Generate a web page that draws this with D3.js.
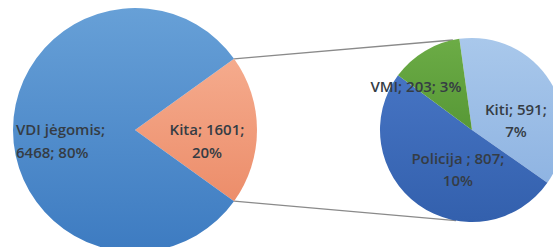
<!DOCTYPE html>
<html>
<head>
<meta charset="utf-8">
<script src="https://cdn.jsdelivr.net/npm/d3@7"></script>
<style>
  body { margin: 0; background: #fff; }
  svg { display: block; }
  .lbl { font-family: "Open Sans", "Liberation Sans", Arial, sans-serif; font-size: 15px; font-weight: 600; fill: #353c44; }
</style>
</head>
<body>
<script>
// main pie
var mainNames = ["Kita", "VDI jėgomis"];
var mainValues = [1601, 6468];
var mainPct = ["20%", "80%"];
// secondary pie (split of "Kita")
var subNames = ["Kiti", "Policija ", "VMI"];
var subValues = [591, 807, 203];
var subPct = ["7%", "10%", "3%"];

var width = 553, height = 247;
var deg = Math.PI / 180;

var svg = d3.select("body").append("svg")
    .attr("width", width)
    .attr("height", height);

// gradients
var grads = {
  vdi: ["#67a0d7", "#3d7bc1"],
  kita: ["#f5ab8d", "#ec8d6a"],
  kiti: ["#a9c8eb", "#8fb4e2"],
  pol: ["#4674c3", "#3360ad"],
  vmi: ["#6cac46", "#579836"]
};
var defs = svg.append("defs");
Object.keys(grads).forEach(function(k) {
  var g = defs.append("linearGradient").attr("id", "g-" + k)
      .attr("x1", 0).attr("y1", 0).attr("x2", 0).attr("y2", 1);
  g.append("stop").attr("offset", "0%").attr("stop-color", grads[k][0]);
  g.append("stop").attr("offset", "100%").attr("stop-color", grads[k][1]);
});
var mainFill = ["url(#g-kita)", "url(#g-vdi)"];
var subFill = ["url(#g-kiti)", "url(#g-pol)", "url(#g-vmi)"];

var main = {cx: 135, cy: 130, r: 122};
var sub = {cx: 472, cy: 130, r: 92};

// Kita slice centred on the right side
var kitaSpan = 360 * mainValues[0] / d3.sum(mainValues);
var mainPie = d3.pie().sort(null)
    .startAngle((90 - kitaSpan / 2) * deg)
    .endAngle((450 - kitaSpan / 2) * deg);
var subPie = d3.pie().sort(null)
    .startAngle(-7.9 * deg)
    .endAngle(352.1 * deg);

var mainArcs = mainPie(mainValues);
var subArcs = subPie(subValues);

function pt(c, a, rr) {
  return [c.cx + rr * Math.sin(a), c.cy - rr * Math.cos(a)];
}

// connector lines
var k = mainArcs[0];
var conn = [
  [pt(main, k.startAngle, main.r), pt(sub, -12 * deg, sub.r)],
  [pt(main, k.endAngle, main.r), pt(sub, 190 * deg, sub.r)]
];
svg.selectAll(".conn").data(conn).enter().append("line")
    .attr("class", "conn")
    .attr("x1", function(d) { return d[0][0]; })
    .attr("y1", function(d) { return d[0][1]; })
    .attr("x2", function(d) { return d[1][0]; })
    .attr("y2", function(d) { return d[1][1]; })
    .attr("stroke", "#8a8a8a")
    .attr("stroke-width", 1.3);

var mainArc = d3.arc().innerRadius(0).outerRadius(main.r);
var subArc = d3.arc().innerRadius(0).outerRadius(sub.r);

svg.append("g").attr("transform", "translate(" + main.cx + "," + main.cy + ")")
  .selectAll("path").data(mainArcs).enter().append("path")
    .attr("d", mainArc)
    .attr("fill", function(d, i) { return mainFill[i]; });

svg.append("g").attr("transform", "translate(" + sub.cx + "," + sub.cy + ")")
  .selectAll("path").data(subArcs).enter().append("path")
    .attr("d", subArc)
    .attr("fill", function(d, i) { return subFill[i]; });

// labels
function lines(name, val, pct, brk) {
  var parts = [name, val, pct];
  if (brk >= 3) return [parts.join("; ")];
  return [parts.slice(0, brk).join("; ") + ";", parts.slice(brk).join("; ")];
}
var mainBreak = [2, 1];
var subBreak = [2, 2, 3];
var mainNudge = [[0, 11], [-47, 11]];
var mainAnchor = ["middle", "start"];
var subNudge = [[-3, 19], [18, -5], [-28, 4]];
var subAnchor = ["middle", "middle", "middle"];

var mainLabelArc = d3.arc().innerRadius(main.r * 0.59).outerRadius(main.r * 0.59);
var subLabelArc = d3.arc().innerRadius(55).outerRadius(55);

function drawLabels(c, arcs, labelArc, names, vals, pcts, brks, nudge, anchor) {
  arcs.forEach(function(d, i) {
    var p = labelArc.centroid(d);
    var ls = lines(names[i], vals[i], pcts[i], brks[i]);
    var x = c.cx + p[0] + nudge[i][0];
    var y = c.cy + p[1] + nudge[i][1];
    var lh = 22.5;
    var y0 = y + 5.5 - (ls.length - 1) * lh / 2;
    var t = svg.append("text").attr("class", "lbl")
        .attr("text-anchor", anchor[i]);
    ls.forEach(function(s, j) {
      t.append("tspan").attr("x", x).attr("y", y0 + j * lh).text(s);
    });
  });
}
drawLabels(main, mainArcs, mainLabelArc, mainNames, mainValues, mainPct, mainBreak, mainNudge, mainAnchor);
drawLabels(sub, subArcs, subLabelArc, subNames, subValues, subPct, subBreak, subNudge, subAnchor);
</script>
</body>
</html>
